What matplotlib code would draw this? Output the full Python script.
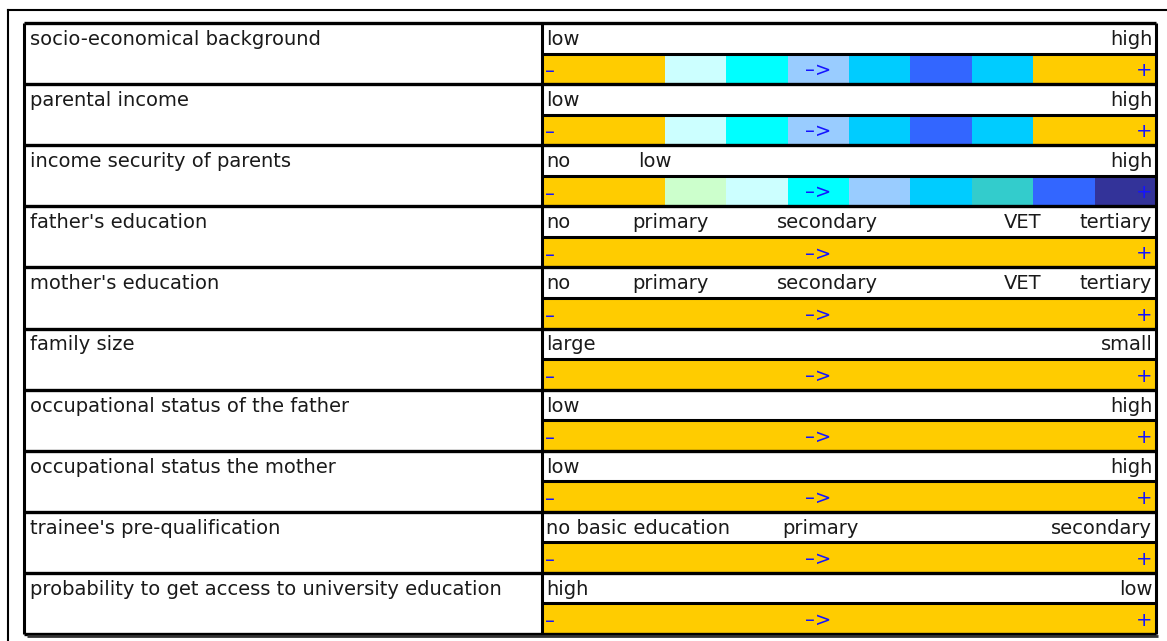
import numpy as np
import matplotlib.pyplot as plt

plt.rcParams['font.family'] = ['DejaVu Sans']

# --- data ---
row_labels = [
    "socio-economical background",
    "parental income",
    "income security of parents",
    "father's education",
    "mother's education",
    "family size",
    "occupational status of the father",
    "occupational status the mother",
    "trainee's pre-qualification",
    "probability to get access to university education",
]

# scale words per row: (text, column position); last one is right aligned at the end
scale_words = [
    [("low", 0), ("high", 10)],
    [("low", 0), ("high", 10)],
    [("no", 0), ("low", 1.57), ("high", 10)],
    [("no", 0), ("primary", 1.47), ("secondary", 3.82), ("VET", 7.52), ("tertiary", 10)],
    [("no", 0), ("primary", 1.47), ("secondary", 3.82), ("VET", 7.52), ("tertiary", 10)],
    [("large", 0), ("small", 10)],
    [("low", 0), ("high", 10)],
    [("low", 0), ("high", 10)],
    [("no basic education", 0), ("primary", 3.92), ("secondary", 10)],
    [("high", 0), ("low", 10)],
]

Y = "#FFCC00"
row_colors = [
    [Y, Y, "#CCFFFF", "#00FFFF", "#99CCFF", "#00CCFF", "#3366FF", "#00CCFF", Y, Y],
    [Y, Y, "#CCFFFF", "#00FFFF", "#99CCFF", "#00CCFF", "#3366FF", "#00CCFF", Y, Y],
    [Y, Y, "#CCFFCC", "#CCFFFF", "#00FFFF", "#99CCFF", "#00CCFF", "#33CCCC", "#3366FF", "#333399"],
] + [[Y] * 10 for _ in range(7)]

n_rows = len(row_labels)
n_cols = 10

# --- layout (pixels of the 1167x641 picture) ---
W, H = 1167, 641
tbl_left, tbl_right, tbl_top, tbl_bot = 24, 1156, 23, 634
split_x = 542
col_px = (tbl_right - split_x) / n_cols
label_w = (split_x - tbl_left) / col_px

fig = plt.figure(figsize=(W / 100, H / 100), dpi=100)
fig.patch.set_facecolor("white")

# outer frame (top and left edges only visible)
fig.add_artist(plt.Line2D([8 / W, 1.0], [1 - 10 / H, 1 - 10 / H], color="black", lw=1.5))
fig.add_artist(plt.Line2D([8 / W, 8 / W], [1 - 10 / H, 0.0], color="black", lw=1.5))

ax = fig.add_axes([tbl_left / W, 1 - tbl_bot / H,
                   (tbl_right - tbl_left) / W, (tbl_bot - tbl_top) / H])
ax.set_xlim(-label_w, n_cols)
ax.set_ylim(n_rows, 0)
ax.axis("off")

# coloured scale cells
for i, cols in enumerate(row_colors):
    ax.bar(np.arange(n_cols) + 0.5, 0.5, bottom=i + 0.5, width=1.0,
           color=cols, edgecolor="none", linewidth=0)

# grid lines
ax.hlines(np.arange(n_rows + 1), -label_w, n_cols, color="black", lw=2.4, clip_on=False)
ax.hlines(np.arange(n_rows) + 0.5, 0, n_cols, color="black", lw=2.2, clip_on=False)
ax.vlines([-label_w, 0, n_cols], 0, n_rows, color="black", lw=2.2, clip_on=False)
ax.hlines([n_rows + 0.03], -label_w + 0.05, n_cols + 0.03, color="#333333", lw=2.0, clip_on=False)

fs = 14
txt_kw = dict(va="center", fontsize=fs, color="#1a1a1a")
for i, lab in enumerate(row_labels):
    ax.text(-label_w + 0.09, i + 0.27, lab, ha="left", **txt_kw)
    words = scale_words[i]
    for j, (w, pos) in enumerate(words):
        if pos == n_cols:
            ax.text(pos - 0.06, i + 0.27, w, ha="right", **txt_kw)
        elif pos == 0:
            ax.text(pos + 0.07, i + 0.27, w, ha="left", **txt_kw)
        else:
            ax.text(pos, i + 0.27, w, ha="left", **txt_kw)
    # direction markers
    ax.text(0.05, i + 0.80, "–", ha="left", va="center", fontsize=fs, color="#1414ff")
    ax.text(4.5, i + 0.78, "–>", ha="center", va="center", fontsize=fs, color="#1414ff")
    ax.text(n_cols - 0.06, i + 0.78, "+", ha="right", va="center", fontsize=fs, color="#1414ff")

fig.savefig("out.png", dpi=100)
